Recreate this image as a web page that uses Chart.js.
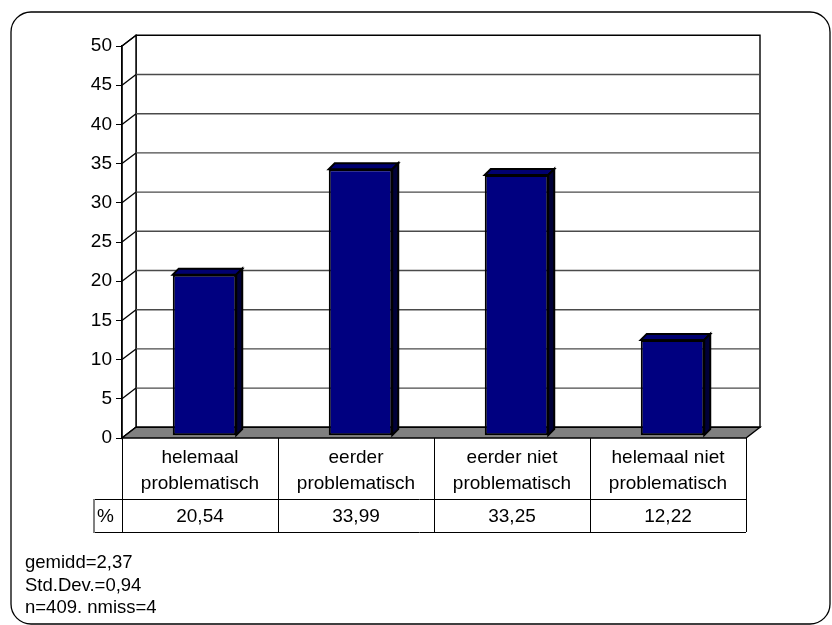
<!DOCTYPE html>
<html>
<head>
<meta charset="utf-8">
<script src="https://cdn.jsdelivr.net/npm/chart.js@4.4.1/dist/chart.umd.min.js"></script>
<style>
  html, body { margin: 0; padding: 0; background: #fff; }
  #wrap { width: 832px; height: 625px; }
</style>
</head>
<body>
<div id="wrap"><canvas id="chart" width="832" height="625"></canvas></div>
<script>
// data
const categories = [
  ["helemaal", "problematisch"],
  ["eerder", "problematisch"],
  ["eerder niet", "problematisch"],
  ["helemaal niet", "problematisch"]
];
const percentages = [20.54, 33.99, 33.25, 12.22];
const yTicks = [0, 5, 10, 15, 20, 25, 30, 35, 40, 45, 50];
const rowLabel = "%";
const statsLines = ["gemidd=2,37", "Std.Dev.=0,94", "n=409. nmiss=4"];

const FAMILY = "'Liberation Sans', Arial, sans-serif";

// 3D look
const WALL_DX = 14, WALL_DY = -10.7;   // depth of the back wall
const BAR_SHIFT_X = 4.5, BAR_SHIFT_Y = -2.3; // bars sit a little behind the front
const BAR_DX = 6, BAR_DY = -6;         // bar depth

function poly(ctx, pts, fill, stroke, lw) {
  ctx.beginPath();
  ctx.moveTo(pts[0][0], pts[0][1]);
  for (let i = 1; i < pts.length; i++) ctx.lineTo(pts[i][0], pts[i][1]);
  ctx.closePath();
  if (fill) { ctx.fillStyle = fill; ctx.fill(); }
  if (stroke) { ctx.strokeStyle = stroke; ctx.lineWidth = lw || 1; ctx.stroke(); }
}

const box3d = {
  id: "box3d",
  beforeDraw(chart) {
    const ctx = chart.ctx;
    const ys = chart.scales.y;
    const L = chart.chartArea.left, R = chart.chartArea.right;
    const top = ys.getPixelForValue(yTicks[yTicks.length - 1]);
    const bot = ys.getPixelForValue(0);

    ctx.save();
    // outer frame
    ctx.strokeStyle = "#000";
    ctx.lineWidth = 1.3;
    ctx.beginPath();
    ctx.roundRect(11, 12, 819, 612, 20);
    ctx.stroke();

    // back wall
    poly(ctx, [[L + WALL_DX, top + WALL_DY], [R + WALL_DX, top + WALL_DY],
               [R + WALL_DX, bot + WALL_DY], [L + WALL_DX, bot + WALL_DY]], "#fff", "#000", 1.4);
    // left wall
    poly(ctx, [[L, top], [L + WALL_DX, top + WALL_DY], [L + WALL_DX, bot + WALL_DY], [L, bot]], "#fff", "#000", 1.4);

    // gridlines on the back wall + diagonals on the side wall
    yTicks.forEach((v) => {
      const py = ys.getPixelForValue(v);
      if (v > 0 && v < yTicks[yTicks.length - 1]) {
        ctx.strokeStyle = "#4a4a4a";
        ctx.lineWidth = 1.4;
        ctx.beginPath();
        ctx.moveTo(L + WALL_DX, py + WALL_DY);
        ctx.lineTo(R + WALL_DX, py + WALL_DY);
        ctx.stroke();
      }
      ctx.strokeStyle = "#000";
      ctx.lineWidth = 1.3;
      ctx.beginPath();
      ctx.moveTo(L, py);
      ctx.lineTo(L + WALL_DX, py + WALL_DY);
      ctx.stroke();
    });

    // floor
    poly(ctx, [[L, bot], [R, bot], [R + WALL_DX, bot + WALL_DY], [L + WALL_DX, bot + WALL_DY]], "#808080", "#000", 1.4);
    ctx.restore();
  },
  beforeDatasetsDraw(chart) {
    chart.ctx.save();
    chart.ctx.translate(BAR_SHIFT_X, BAR_SHIFT_Y);
  },
  afterDatasetsDraw(chart) {
    const ctx = chart.ctx;
    const meta = chart.getDatasetMeta(0);
    meta.data.forEach((el) => {
      const l = el.x - el.width / 2, r = el.x + el.width / 2;
      const t = el.y, b = el.base;
      poly(ctx, [[l, t], [l + BAR_DX, t + BAR_DY], [r + BAR_DX, t + BAR_DY], [r, t]], "#000070", "#000", 2);
      poly(ctx, [[r, t], [r + BAR_DX, t + BAR_DY], [r + BAR_DX, b + BAR_DY], [r, b]], "#000038", "#000", 2);
    });
    ctx.restore();
  },
  afterDraw(chart) {
    const ctx = chart.ctx;
    const xs = chart.scales.x, ys = chart.scales.y;
    const L = chart.chartArea.left, R = chart.chartArea.right;
    const bot = ys.getPixelForValue(0);
    const half = (R - L) / categories.length / 2;
    const row1 = bot + 61, row2 = row1 + 33;
    const keyLeft = L - 29;

    ctx.save();
    ctx.strokeStyle = "#000";
    ctx.lineWidth = 1;
    // table lines
    ctx.beginPath();
    ctx.moveTo(keyLeft, row1 + 0.5); ctx.lineTo(R, row1 + 0.5);
    ctx.moveTo(keyLeft, row2 + 0.5); ctx.lineTo(R, row2 + 0.5);
    ctx.moveTo(L + 0.5, bot); ctx.lineTo(L + 0.5, row2);
    categories.forEach((c, i) => {
      const xr = Math.round(xs.getPixelForValue(i) + half) + 0.5;
      ctx.moveTo(xr, bot); ctx.lineTo(xr, row2);
    });
    ctx.stroke();
    ctx.strokeStyle = "#808080";
    ctx.lineWidth = 2;
    ctx.beginPath();
    ctx.moveTo(keyLeft + 1, row1); ctx.lineTo(keyLeft + 1, row2 + 1);
    ctx.stroke();

    ctx.fillStyle = "#000";
    ctx.font = "19px " + FAMILY;
    ctx.textBaseline = "alphabetic";
    ctx.textAlign = "center";
    categories.forEach((lines, i) => {
      const cx = xs.getPixelForValue(i);
      lines.forEach((s, k) => ctx.fillText(s, cx, bot + 25 + k * 26));
      ctx.fillText(percentages[i].toFixed(2).replace(".", ","), cx, row1 + 23);
    });
    ctx.textAlign = "left";
    ctx.fillText(rowLabel, keyLeft + 4, row1 + 23);

    ctx.font = "18.5px " + FAMILY;
    statsLines.forEach((s, k) => ctx.fillText(s, 25, 568 + k * 22.7));
    ctx.restore();
  }
};

new Chart(document.getElementById("chart"), {
  type: "bar",
  data: {
    labels: categories.map((c) => c.join(" ")),
    datasets: [{
      data: percentages,
      backgroundColor: "#000080",
      borderColor: "#000",
      borderWidth: 2,
      borderSkipped: false,
      barPercentage: 0.407,
      categoryPercentage: 1
    }]
  },
  options: {
    responsive: false,
    animation: false,
    devicePixelRatio: 1,
    layout: { padding: { left: 0, right: 86, top: 46, bottom: 187 } },
    plugins: { legend: { display: false }, tooltip: { enabled: false } },
    scales: {
      x: { display: false },
      y: {
        min: 0,
        max: 50,
        afterFit: (scale) => { scale.width = 122; },
        afterBuildTicks: (scale) => { scale.ticks = yTicks.map((v) => ({ value: v })); },
        ticks: { color: "#000", padding: 4, font: { family: FAMILY, size: 19 } },
        grid: { drawOnChartArea: false, drawTicks: true, tickLength: 6, color: "#000" },
        border: { display: true, color: "#000", width: 1.4 }
      }
    }
  },
  plugins: [box3d]
});
</script>
</body>
</html>
